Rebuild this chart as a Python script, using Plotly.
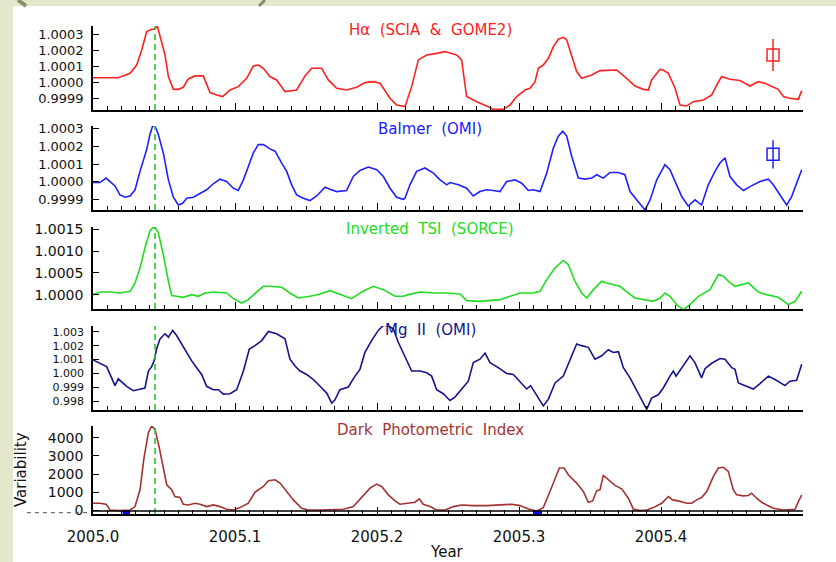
import plotly.graph_objects as go
from plotly.subplots import make_subplots

# ---------------- data ----------------
ha_x = [2005.0000, 2005.0178, 2005.0261, 2005.0308, 2005.0343, 2005.0378, 2005.0413, 2005.0437, 2005.0453, 2005.0484,
        2005.0507, 2005.0531, 2005.0566, 2005.0601, 2005.0636, 2005.0671, 2005.0718, 2005.0777, 2005.0824, 2005.0871,
        2005.0913, 2005.0965, 2005.1023, 2005.1082, 2005.1129, 2005.1164, 2005.1200, 2005.1246, 2005.1293, 2005.1352,
        2005.1387, 2005.1434, 2005.1493, 2005.1540, 2005.1610, 2005.1657, 2005.1716, 2005.1786, 2005.1857, 2005.1915,
        2005.1974, 2005.2021, 2005.2092, 2005.2138, 2005.2197, 2005.2244, 2005.2291, 2005.2350, 2005.2420, 2005.2479,
        2005.2561, 2005.2596, 2005.2631, 2005.2702, 2005.2784, 2005.2819, 2005.2890, 2005.2937, 2005.2984, 2005.3042,
        2005.3077, 2005.3113, 2005.3136, 2005.3171, 2005.3207, 2005.3242, 2005.3277, 2005.3312, 2005.3336, 2005.3371,
        2005.3406, 2005.3441, 2005.3477, 2005.3512, 2005.3570, 2005.3688, 2005.3758, 2005.3817, 2005.3876, 2005.3911,
        2005.3934, 2005.3993, 2005.4016, 2005.4052, 2005.4099, 2005.4134, 2005.4181, 2005.4228, 2005.4298, 2005.4357,
        2005.4392, 2005.4427, 2005.4486, 2005.4556, 2005.4627, 2005.4685, 2005.4732, 2005.4791, 2005.4826, 2005.4862,
        2005.4908, 2005.4967, 2005.4991]
ha_y = [1.000031, 1.000031, 1.000058, 1.000110, 1.000204, 1.000319, 1.000333, 1.000335, 1.000354, 1.000246,
        1.000173, 1.000038, 0.999958, 0.999958, 0.999971, 1.000023, 1.000042, 1.000042, 0.999938, 0.999923,
        0.999913, 0.999954, 0.999975, 1.000027, 1.000104, 1.000110, 1.000090, 1.000038, 1.000017, 0.999944,
        0.999950, 0.999954, 1.000042, 1.000090, 1.000090, 1.000017, 0.999965, 0.999954, 0.999971, 1.000000,
        1.000006, 0.999996, 0.999902, 0.999860, 0.999850, 0.999975, 1.000142, 1.000173, 1.000183, 1.000194,
        1.000173, 1.000142, 0.999913, 0.999881, 0.999850, 0.999833, 0.999833, 0.999860, 0.999913, 0.999954,
        0.999965, 1.000006, 1.000090, 1.000110, 1.000152, 1.000225, 1.000271, 1.000283, 1.000267, 1.000163,
        1.000069, 1.000027, 1.000038, 1.000048, 1.000075, 1.000079, 1.000027, 0.999979, 0.999958, 0.999954,
        1.000017, 1.000083, 1.000079, 1.000058, 0.999965, 0.999860, 0.999854, 0.999881, 0.999892, 0.999923,
        0.999985, 1.000038, 1.000021, 1.000013, 0.999979, 1.000006, 0.999996, 0.999971, 0.999958, 0.999913,
        0.999902, 0.999896, 0.999950]

balmer_x = [2005.0000, 2005.0049, 2005.0092, 2005.0120, 2005.0155, 2005.0190, 2005.0225, 2005.0261, 2005.0296, 2005.0331,
            2005.0378, 2005.0401, 2005.0420, 2005.0437, 2005.0460, 2005.0495, 2005.0531, 2005.0566, 2005.0601, 2005.0631,
            2005.0660, 2005.0707, 2005.0754, 2005.0800, 2005.0847, 2005.0894, 2005.0941, 2005.0988, 2005.1023, 2005.1059,
            2005.1094, 2005.1129, 2005.1164, 2005.1200, 2005.1246, 2005.1282, 2005.1329, 2005.1364, 2005.1399, 2005.1434,
            2005.1481, 2005.1528, 2005.1575, 2005.1634, 2005.1669, 2005.1716, 2005.1786, 2005.1833, 2005.1880, 2005.1939,
            2005.1998, 2005.2045, 2005.2092, 2005.2138, 2005.2185,
            2005.2197, 2005.2232, 2005.2279, 2005.2338, 2005.2397, 2005.2444, 2005.2491, 2005.2514, 2005.2573, 2005.2631,
            2005.2678, 2005.2725, 2005.2772, 2005.2819, 2005.2866, 2005.2913, 2005.2972, 2005.3019, 2005.3066, 2005.3101,
            2005.3148, 2005.3195, 2005.3242, 2005.3277, 2005.3308, 2005.3336, 2005.3371, 2005.3418, 2005.3465, 2005.3512,
            2005.3547, 2005.3594, 2005.3641, 2005.3700, 2005.3746, 2005.3782, 2005.3829, 2005.3887, 2005.3923, 2005.3970,
            2005.4028, 2005.4063, 2005.4110, 2005.4146, 2005.4192, 2005.4239, 2005.4286, 2005.4333, 2005.4380, 2005.4415,
            2005.4451, 2005.4486, 2005.4533, 2005.4580, 2005.4627, 2005.4697, 2005.4756, 2005.4791, 2005.4838, 2005.4885,
            2005.4920, 2005.4991]
balmer_y = [0.999996, 0.999996, 1.000021, 1.000002, 0.999977, 0.999926, 0.999913, 0.999920, 0.999955, 1.000059,
            1.000182, 1.000267, 1.000315, 1.000315, 1.000267, 1.000163, 1.000011, 0.999913, 0.999869, 0.999879,
            0.999907, 0.999913, 0.999936, 0.999955, 0.999989, 1.000015, 1.000002, 0.999964, 0.999951, 1.000011,
            1.000087, 1.000163, 1.000210, 1.000210, 1.000186, 1.000173, 1.000106, 1.000059, 0.999983, 0.999926,
            0.999907, 0.999894, 0.999920, 0.999970, 0.999958, 0.999945, 0.999951, 1.000030, 1.000064, 1.000083,
            1.000068, 1.000030, 0.999964, 0.999913, 0.999901,
            0.999907, 0.999983, 1.000059, 1.000078, 1.000049, 1.000011, 0.999983, 0.999996, 0.999983, 0.999964,
            0.999920, 0.999945, 0.999955, 0.999951, 0.999945, 1.000002, 1.000011, 0.999992, 0.999951, 0.999955,
            0.999945, 1.000049, 1.000191, 1.000258, 1.000286, 1.000258, 1.000144, 1.000021, 1.000015, 1.000021,
            1.000040, 1.000021, 1.000053, 1.000053, 1.000040, 0.999945, 0.999898, 0.999841, 0.999898, 1.000011,
            1.000097, 1.000068, 0.999983, 0.999917, 0.999863, 0.999898, 0.999869, 0.999983, 1.000059, 1.000106,
            1.000135, 1.000030, 0.999983, 0.999951, 0.999973, 1.000002, 1.000015, 0.999983, 0.999926, 0.999869,
            0.999917, 1.000068]

tsi_x = [2005.0000, 2005.0049, 2005.0120, 2005.0190, 2005.0261, 2005.0296, 2005.0331, 2005.0366, 2005.0401, 2005.0430,
         2005.0460, 2005.0495, 2005.0531, 2005.0554, 2005.0589, 2005.0636, 2005.0695, 2005.0742, 2005.0789, 2005.0847,
         2005.0941, 2005.0988, 2005.1047, 2005.1094, 2005.1153, 2005.1200, 2005.1246, 2005.1329, 2005.1387, 2005.1446,
         2005.1528, 2005.1599, 2005.1669, 2005.1739, 2005.1822, 2005.1892, 2005.1974, 2005.2045, 2005.2127, 2005.2185,
         2005.2221, 2005.2303, 2005.2397, 2005.2491, 2005.2585, 2005.2631, 2005.2725, 2005.2866, 2005.2937, 2005.3007,
         2005.3101, 2005.3148, 2005.3195, 2005.3254, 2005.3312, 2005.3347, 2005.3394, 2005.3441, 2005.3477, 2005.3524,
         2005.3582, 2005.3617, 2005.3711, 2005.3758, 2005.3817, 2005.3876, 2005.3946, 2005.3993, 2005.4028, 2005.4063,
         2005.4110, 2005.4157, 2005.4204, 2005.4263, 2005.4345, 2005.4404, 2005.4439, 2005.4486, 2005.4521, 2005.4615,
         2005.4685, 2005.4744, 2005.4826, 2005.4897, 2005.4944, 2005.4991]
tsi_y = [1.000000, 1.000062, 1.000062, 1.000038, 1.000077, 1.000269, 1.000615, 1.001077, 1.001462, 1.001577,
         1.001423, 1.000923, 1.000308, 0.999977, 0.999962, 0.999938, 1.000000, 0.999962, 1.000038, 1.000062,
         1.000038, 0.999908, 0.999808, 0.999885, 1.000062, 1.000192, 1.000192, 1.000169, 1.000038, 0.999923,
         0.999962, 1.000015, 1.000092, 1.000000, 0.999908, 1.000062, 1.000192, 1.000115, 0.999962, 0.999962,
         1.000000, 1.000062, 1.000038, 1.000038, 1.000015, 0.999862, 0.999846, 0.999885, 0.999962, 1.000038,
         1.000038, 1.000077, 1.000346, 1.000615, 1.000785, 1.000692, 1.000308, 1.000038, 0.999923, 1.000115,
         1.000308, 1.000269, 1.000192, 1.000062, 0.999923, 0.999885, 0.999846, 0.999923, 1.000038, 0.999962,
         0.999769, 0.999654, 0.999769, 0.999962, 1.000115, 1.000462, 1.000423, 1.000269, 1.000192, 1.000269,
         1.000062, 1.000000, 0.999938, 0.999769, 0.999846, 1.000077]

mg_x = [2005.0000, 2005.0049, 2005.0096, 2005.0131, 2005.0155, 2005.0178, 2005.0202, 2005.0237, 2005.0284, 2005.0331,
        2005.0366, 2005.0390, 2005.0413, 2005.0430, 2005.0448, 2005.0472, 2005.0507, 2005.0531, 2005.0561, 2005.0589,
        2005.0624, 2005.0660, 2005.0695, 2005.0730, 2005.0765, 2005.0800, 2005.0847, 2005.0883, 2005.0918, 2005.0965,
        2005.1012, 2005.1059, 2005.1101, 2005.1141, 2005.1188, 2005.1235, 2005.1293, 2005.1352, 2005.1387, 2005.1423,
        2005.1458, 2005.1505, 2005.1552, 2005.1599, 2005.1646, 2005.1681, 2005.1704, 2005.1739, 2005.1798, 2005.1845,
        2005.1880, 2005.1915, 2005.1962, 2005.2009, 2005.2045, 2005.2080, 2005.2115, 2005.2150, 2005.2197,
        2005.2244, 2005.2303, 2005.2350, 2005.2385, 2005.2420, 2005.2467, 2005.2514, 2005.2549, 2005.2596, 2005.2643,
        2005.2678, 2005.2725, 2005.2761, 2005.2796, 2005.2854, 2005.2913, 2005.2960, 2005.3007, 2005.3054, 2005.3082,
        2005.3124, 2005.3171, 2005.3207, 2005.3254, 2005.3312, 2005.3359, 2005.3406, 2005.3441, 2005.3488, 2005.3535,
        2005.3582, 2005.3629, 2005.3664, 2005.3700, 2005.3735, 2005.3782, 2005.3829, 2005.3864, 2005.3899, 2005.3934,
        2005.3981, 2005.4016, 2005.4063, 2005.4087, 2005.4106, 2005.4146, 2005.4204, 2005.4239, 2005.4286, 2005.4310,
        2005.4357, 2005.4415, 2005.4451, 2005.4498, 2005.4521, 2005.4545, 2005.4592, 2005.4650, 2005.4697, 2005.4756,
        2005.4803, 2005.4873, 2005.4908, 2005.4955, 2005.4991]
mg_y = [1.000976, 1.000732, 1.000488, 0.999683, 0.999122, 0.999610, 0.999366, 0.999073, 0.998756, 0.998878,
        0.998951, 1.000171, 1.000488, 1.000902, 1.001756, 1.002488, 1.002854, 1.002610, 1.003098, 1.002732,
        1.002122, 1.001512, 1.000902, 1.000415, 0.999927, 0.999073, 0.998829, 0.998829, 0.998512, 0.998537,
        0.998829, 1.000171, 1.001756, 1.002000, 1.002366, 1.003024, 1.002854, 1.002488, 1.001024, 1.000537,
        1.000171, 0.999927, 0.999561, 0.999073, 0.998585, 0.997854, 0.998098, 0.998829, 0.999024, 0.999805,
        1.000293, 1.001512, 1.002366, 1.003098, 1.003463, 1.003415, 1.003220, 1.002244, 1.001268,
        1.000171, 1.000171, 1.000049, 0.999805, 0.998829, 0.998537, 0.998049, 0.998293, 0.998829, 0.999439,
        1.000780, 1.001024, 1.001463, 1.000780, 1.000415, 1.000000, 0.999927, 0.999439, 0.998878, 0.999122,
        0.998463, 0.997659, 0.998146, 0.999317, 0.999805, 1.000902, 1.002122, 1.002000, 1.001878, 1.001024,
        1.001268, 1.001707, 1.001512, 1.001561, 1.000415, 0.999683, 0.998829, 0.998098, 0.997415, 0.998220,
        0.998463, 0.998951, 0.999805, 1.000171, 0.999805, 1.000415, 1.001268, 1.000780, 0.999683, 1.000341,
        1.000732, 1.001073, 1.001024, 1.000415, 1.000293, 0.999317, 0.999122, 0.998878, 0.999268, 0.999805,
        0.999561, 0.999122, 0.999439, 0.999512, 1.000659]

dpi_x = [2005.0000, 2005.0049, 2005.0092, 2005.0120, 2005.0190, 2005.0261, 2005.0296, 2005.0331, 2005.0359, 2005.0390,
         2005.0413, 2005.0437, 2005.0467, 2005.0495, 2005.0519, 2005.0554, 2005.0577, 2005.0613, 2005.0636, 2005.0671,
         2005.0718, 2005.0754, 2005.0800, 2005.0847, 2005.0894, 2005.0941, 2005.0988, 2005.1035, 2005.1094, 2005.1141,
         2005.1200, 2005.1235, 2005.1282, 2005.1317, 2005.1364, 2005.1411, 2005.1469, 2005.1516, 2005.1599, 2005.1692,
         2005.1763, 2005.1833, 2005.1892, 2005.1951, 2005.1998, 2005.2033, 2005.2080, 2005.2127,
         2005.2162, 2005.2209, 2005.2268, 2005.2298, 2005.2326, 2005.2373, 2005.2420, 2005.2479, 2005.2538, 2005.2596,
         2005.2678, 2005.2772, 2005.2866, 2005.2948, 2005.3007, 2005.3066, 2005.3124, 2005.3171, 2005.3218, 2005.3254,
         2005.3284, 2005.3317, 2005.3347, 2005.3406, 2005.3453, 2005.3488, 2005.3519, 2005.3547, 2005.3570, 2005.3594,
         2005.3629, 2005.3676, 2005.3723, 2005.3770, 2005.3805, 2005.3852, 2005.3899, 2005.3946, 2005.4005, 2005.4052,
         2005.4082, 2005.4122, 2005.4181, 2005.4216, 2005.4251, 2005.4286, 2005.4322, 2005.4369, 2005.4404, 2005.4439,
         2005.4474, 2005.4509, 2005.4533, 2005.4580, 2005.4615, 2005.4638, 2005.4674, 2005.4709, 2005.4744, 2005.4791,
         2005.4862, 2005.4944, 2005.4967, 2005.4991]
dpi_y = [389, 389, 333, 19, -19, 19, 204, 1130, 2889, 4278,
         4648, 4463, 3444, 2333, 1407, 1130, 759, 704, 333, 296,
         389, 333, 204, 296, 204, 56, 19, 148, 389, 1000,
         1315, 1630, 1685, 1500, 1037, 574, 111, 19, 19, 19,
         56, 204, 704, 1222, 1444, 1315, 852, 519,
         333, 389, 444, 630, 333, 204, 19, 19, 204, 296,
         259, 259, 296, 333, 259, 74, -37, 148, 1037, 1778,
         2333, 2333, 1963, 1500, 1037, 444, 519, 1074, 1130, 1926,
         1685, 1370, 1185, 667, 74, -19, 19, 148, 389, 759,
         574, 519, 389, 389, 574, 704, 1037, 1870, 2333, 2370,
         2148, 1130, 852, 796, 815, 944, 667, 444, 296, 111,
         19, 56, 481, 852]

# blue flagged intervals at the bottom of the DPI panel
flag_x = [2005.0209, 2005.0261, None, 2005.3106, 2005.3162]
flag_y = [-130, -130, None, -130, -130]

# representative error bars
ha_err_x, ha_err_y, ha_err = [2005.4789], [1.000173], [0.00010]
balmer_err_x, balmer_err_y, balmer_err = [2005.4789], [1.000155], [0.00008]

event_year = 2005.0437

titles = ["H\u03b1  (SCIA  &  GOME2)", "Balmer  (OMI)", "Inverted  TSI  (SORCE)", "Mg  II  (OMI)",
          "Dark  Photometric  Index"]
colors = ["#ff2020", "#2020ff", "#20dd20", "#14148c", "#a33333"]

y_ranges = [[0.999829, 1.000354], [0.999841, 1.000315], [0.99967, 1.001554], [0.997366, 1.003415], [-204, 4648]]
y_tickvals = [[0.9999, 1.0, 1.0001, 1.0002, 1.0003],
              [0.9999, 1.0, 1.0001, 1.0002, 1.0003],
              [1.0, 1.0005, 1.0010, 1.0015],
              [0.998, 0.999, 1.0, 1.001, 1.002, 1.003],
              [0, 1000, 2000, 3000, 4000]]
y_ticktext = [["0.9999", "1.0000", "1.0001", "1.0002", "1.0003"],
              ["0.9999", "1.0000", "1.0001", "1.0002", "1.0003"],
              ["1.0000", "1.0005", "1.0010", "1.0015"],
              ["0.998", "0.999", "1.000", "1.001", "1.002", "1.003"],
              ["0", "1000", "2000", "3000", "4000"]]
x_tickvals = [2005.0, 2005.1, 2005.2, 2005.3, 2005.4]
x_ticktext = ["2005.0", "2005.1", "2005.2", "2005.3", "2005.4"]

# ---------------- figure ----------------
W, H = 836, 562
L, R = 93, 33
pw = W - L - R
panel_px = [(26, 110), (126, 210), (227, 309), (326, 410), (426, 514)]
title_py = [30, 129, 229, 330, 430]
tick_sizes = [13, 13, 14, 11, 14]

fig = make_subplots(rows=5, cols=1, shared_xaxes=False)

series = [(ha_x, ha_y), (balmer_x, balmer_y), (tsi_x, tsi_y), (mg_x, mg_y), (dpi_x, dpi_y)]
for i, (xs, ys) in enumerate(series):
    fig.add_trace(go.Scatter(x=xs, y=ys, mode="lines", line=dict(color=colors[i], width=1.6),
                             showlegend=False, hoverinfo="skip"), row=i + 1, col=1)

fig.add_trace(go.Scatter(x=ha_err_x, y=ha_err_y, mode="markers",
                         marker=dict(symbol="square-open", size=12, color=colors[0], line=dict(width=1.5)),
                         error_y=dict(type="data", array=ha_err, color=colors[0], thickness=1.5, width=0),
                         showlegend=False), row=1, col=1)
fig.add_trace(go.Scatter(x=balmer_err_x, y=balmer_err_y, mode="markers",
                         marker=dict(symbol="square-open", size=12, color=colors[1], line=dict(width=1.5)),
                         error_y=dict(type="data", array=balmer_err, color=colors[1], thickness=1.5, width=0),
                         showlegend=False), row=2, col=1)
fig.add_trace(go.Scatter(x=flag_x, y=flag_y, mode="lines", line=dict(color="#0000ff", width=4),
                         showlegend=False, cliponaxis=False), row=5, col=1)

for i in range(5):
    top, bot = panel_px[i]
    sfx = "" if i == 0 else str(i + 1)
    fig.layout["yaxis" + sfx].update(
        domain=[1 - bot / H, 1 - top / H], range=y_ranges[i], tickmode="array",
        tickvals=y_tickvals[i], ticktext=y_ticktext[i], ticks="inside", ticklen=6, tickwidth=1.3,
        tickcolor="black", showline=True, linecolor="black", linewidth=1.5, showgrid=False,
        zeroline=False, tickfont=dict(family="DejaVu Sans", size=tick_sizes[i], color="#111111"),
        ticklabelstandoff=5, automargin=False)
    fig.layout["xaxis" + sfx].update(
        range=[2005.0, 2005.5], tickmode="array", tickvals=x_tickvals, ticktext=x_ticktext,
        ticks="inside", ticklen=7, tickwidth=1.3, tickcolor="black",
        minor=dict(tickmode="linear", tick0=2005.0, dtick=0.01, ticks="inside", ticklen=4,
                   tickwidth=1.3, tickcolor="black", showgrid=False),
        showline=True, linecolor="black", linewidth=1.5, showgrid=False, zeroline=False,
        showticklabels=(i == 4), tickfont=dict(family="DejaVu Sans", size=15, color="#111111"),
        ticklabelstandoff=8, automargin=False)
    # event line
    fig.add_shape(type="line", xref="x" + sfx, yref="y" + sfx + " domain",
                  x0=event_year, x1=event_year, y0=0, y1=1,
                  line=dict(color="#22cc22", width=1.6, dash="6px,4px"))
    fig.add_annotation(text=titles[i], xref="paper", yref="paper", x=(430 - L) / pw,
                       y=1 - title_py[i] / H, xanchor="center", yanchor="middle", showarrow=False,
                       font=dict(family="DejaVu Sans", size=15, color=colors[i]))

# second baseline line in DPI panel
fig.add_shape(type="line", xref="x5 domain", yref="y5", x0=0, x1=1, y0=-40, y1=-40,
              line=dict(color="black", width=1.5))
# dashed stub left of the DPI panel
fig.add_shape(type="line", xref="paper", yref="y5", x0=(27 - L) / pw, x1=(90 - L) / pw,
              y0=-130, y1=-130, line=dict(color="#555555", width=1, dash="4px,4px"))

# background strips (slide decoration)
fig.add_shape(type="rect", xref="paper", yref="paper", x0=-L / pw, x1=(13 - L) / pw, y0=0, y1=1,
              fillcolor="#e3e8cc", line=dict(width=0), layer="below")
fig.add_shape(type="rect", xref="paper", yref="paper", x0=-L / pw, x1=(W - L) / pw, y0=1 - 6 / H, y1=1,
              fillcolor="#e3e8cc", line=dict(width=0), layer="below")
fig.add_shape(type="line", xref="paper", yref="paper", x0=(18 - L) / pw, x1=(26 - L) / pw, y0=1, y1=1 - 6 / H,
              line=dict(color="#8d8c70", width=4), layer="below")
fig.add_shape(type="line", xref="paper", yref="paper", x0=(265 - L) / pw, x1=(259 - L) / pw, y0=1, y1=1 - 6 / H,
              line=dict(color="#8d8c70", width=3), layer="below")

fig.add_annotation(text="Year", xref="paper", yref="paper", x=(447 - L) / pw, y=1 - 552 / H,
                   xanchor="center", yanchor="middle", showarrow=False,
                   font=dict(family="DejaVu Sans", size=15, color="#111111"))
fig.add_annotation(text="Variability", xref="paper", yref="paper", x=(21 - L) / pw, y=1 - 470 / H,
                   xanchor="center", yanchor="middle", showarrow=False, textangle=-90,
                   font=dict(family="DejaVu Sans", size=15, color="#111111"))

fig.update_layout(width=W, height=H, margin=dict(l=L, r=R, t=0, b=0, pad=0, autoexpand=False),
                  paper_bgcolor="white", plot_bgcolor="white", showlegend=False)

page_css = ("var s=document.createElement('style');"
            "s.textContent='html,body{margin:0;padding:0;overflow:hidden;width:836px;height:562px;}"
            "body>div{height:562px;overflow:hidden;line-height:0;}';"
            "document.head.appendChild(s);")
fig.write_html("out.html", config={"displayModeBar": False, "responsive": False}, post_script=page_css)
